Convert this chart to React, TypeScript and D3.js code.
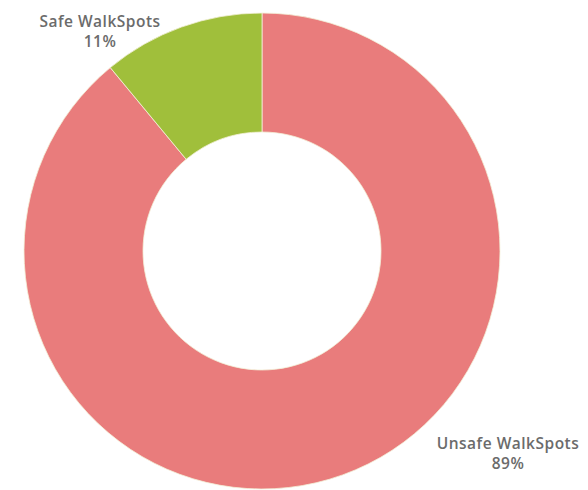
import React, { useEffect, useRef } from 'react';
import * as d3 from 'd3';

const categories = ['Unsafe WalkSpots', 'Safe WalkSpots'];
const values = [89, 11];
const colors = ['#e97c7c', '#a0bf3b'];

// label anchors (center x, first-line baseline)
const labelPos: [number, number][] = [
  [508, 449],
  [100, 27],
];

const App: React.FC = () => {
  const svgRef = useRef<SVGSVGElement>(null);

  useEffect(() => {
    if (!svgRef.current) return;
    const width = 588;
    const height = 490;
    const cx = 262;
    const cy = 251;
    const outer = 238;
    const inner = 119;

    const svg = d3.select(svgRef.current);
    svg.selectAll('*').remove();
    svg.attr('width', width).attr('height', height);

    const data = categories.map((c, i) => ({ name: c, value: values[i], color: colors[i] }));

    const pie = d3.pie<any>().sort(null).value((d: any) => d.value);
    const arc = d3.arc<any>().innerRadius(inner).outerRadius(outer);

    const g = svg.append('g').attr('transform', `translate(${cx},${cy})`);

    g.selectAll('path')
      .data(pie(data))
      .enter()
      .append('path')
      .attr('d', arc as any)
      .style('fill', (d: any) => d.data.color)
      .style('stroke', '#f3f0d8')
      .style('stroke-width', 0.8);

    const labels = svg.selectAll('.label')
      .data(data)
      .enter()
      .append('text')
      .attr('class', 'label')
      .attr('text-anchor', 'middle')
      .style('font-family', '"Open Sans", sans-serif')
      .style('font-weight', 600)
      .style('font-size', '15.5px')
      .style('letter-spacing', '0.5px')
      .style('fill', '#6b6b6b');

    labels.append('tspan')
      .attr('x', (_d, i) => labelPos[i][0])
      .attr('y', (_d, i) => labelPos[i][1])
      .text(d => d.name);

    labels.append('tspan')
      .attr('x', (_d, i) => labelPos[i][0])
      .attr('dy', 20)
      .text(d => `${d.value}%`);
  }, []);

  return (
    <svg ref={svgRef} style={{ position: 'absolute', left: 0, top: 0, background: '#fff' }}></svg>
  );
};

export default App;
